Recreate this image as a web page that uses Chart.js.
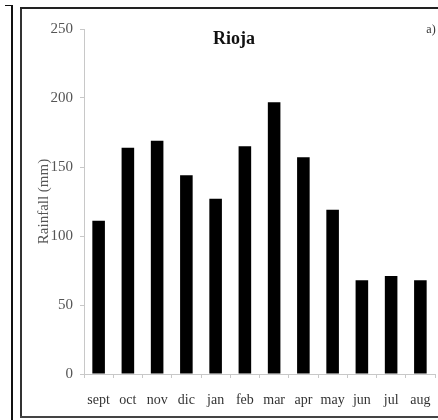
<!DOCTYPE html>
<html>
<head>
<meta charset="utf-8">
<script src="https://cdn.jsdelivr.net/npm/chart.js@4/dist/chart.umd.min.js"></script>
<style>
  html, body { margin: 0; padding: 0; background: #fff; }
  #wrap { position: relative; width: 438px; height: 420px; overflow: hidden; }
  #myChart { position: absolute; left: 0; top: 0; }
  .line { position: absolute; background: #111; }
</style>
</head>
<body>
<div id="wrap">
  <canvas id="myChart" width="438" height="420"></canvas>
  <div class="line" style="left:11px;top:5px;width:2px;height:415px;"></div>
  <div class="line" style="left:5px;top:5px;width:7px;height:1px;"></div>
  <div class="line" style="left:20px;top:8px;width:2px;height:410px;background:#333;"></div>
  <div class="line" style="left:20px;top:7px;width:418px;height:2px;background:#222;"></div>
  <div class="line" style="left:20px;top:416px;width:418px;height:2px;background:#444;"></div>
</div>
<script>
const months = ['sept', 'oct', 'nov', 'dic', 'jan', 'feb', 'mar', 'apr', 'may', 'jun', 'jul', 'aug'];
const rainfall = [111, 164, 169, 144, 127, 165, 197, 157, 119, 68, 71, 68];
const yTicks = [0, 50, 100, 150, 200, 250];

const serif = '"Liberation Serif", "Times New Roman", serif';

// title and panel letter sit inside the plot area, so draw them by hand
const panelText = {
    id: 'panelText',
    afterDraw(chart) {
        const ctx = chart.ctx;
        ctx.save();
        ctx.fillStyle = '#111';
        ctx.textAlign = 'center';
        ctx.textBaseline = 'middle';
        ctx.font = 'bold 18px ' + serif;
        ctx.fillText('Rioja', 234, 39);
        ctx.font = '12px ' + serif;
        ctx.fillStyle = '#333';
        ctx.fillText('a)', 431, 30);
        ctx.restore();
    }
};

const chartElement = document.getElementById('myChart');
new Chart(chartElement, {
    type: 'bar',
    data: {
        labels: months,
        datasets: [{
            data: rainfall,
            backgroundColor: '#000',
            borderWidth: 0,
            barPercentage: 0.43,
            categoryPercentage: 1
        }]
    },
    options: {
        responsive: false,
        animation: false,
        layout: { padding: { left: 0, right: 3, top: 29, bottom: 0 } },
        plugins: {
            legend: { display: false },
            tooltip: { enabled: false }
        },
        scales: {
            x: {
                afterFit: s => { s.height = 46; s.paddingLeft = 0; s.paddingRight = 0; },
                grid: { drawOnChartArea: false, drawTicks: true, tickLength: 4, color: '#c8c8c8' },
                border: { color: '#c8c8c8' },
                ticks: {
                    color: '#333', padding: 14, maxRotation: 0, minRotation: 0, autoSkip: false,
                    font: { family: serif, size: 14 }
                }
            },
            y: {
                min: 0,
                max: 250,
                afterFit: s => { s.width = 84; },
                afterBuildTicks: s => { s.ticks = yTicks.map(v => ({ value: v })); },
                grid: { drawOnChartArea: false, drawTicks: true, tickLength: 4, color: '#c8c8c8' },
                border: { color: '#c8c8c8' },
                ticks: { color: '#555', padding: 7, font: { family: serif, size: 15 } },
                title: {
                    display: true,
                    text: 'Rainfall (mm)',
                    color: '#555',
                    padding: { top: 35, bottom: 0 },
                    font: { family: serif, size: 15 }
                }
            }
        }
    },
    plugins: [panelText]
});
</script>
</body>
</html>
